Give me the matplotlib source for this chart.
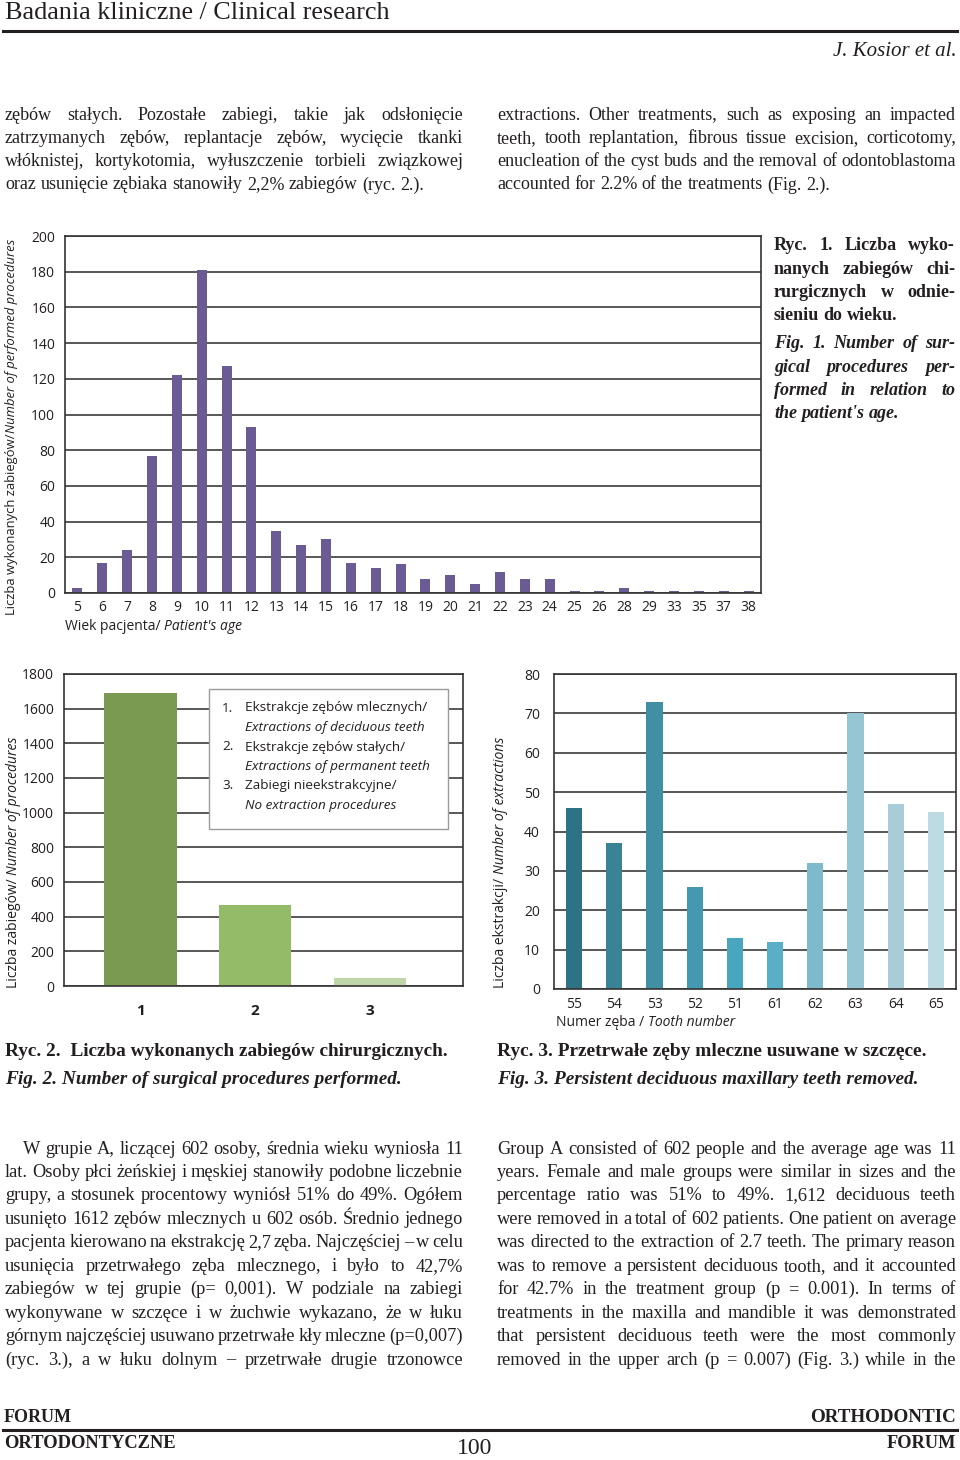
import matplotlib
matplotlib.use('Agg')
import matplotlib.pyplot as plt
from matplotlib.patches import Rectangle
from matplotlib.lines import Line2D

# ---- data ----
ages = ['5', '6', '7', '8', '9', '10', '11', '12', '13', '14', '15', '16', '17', '18', '19',
        '20', '21', '22', '23', '24', '25', '26', '28', '29', '33', '35', '37', '38']
age_counts = [3, 17, 24, 77, 122, 181, 127, 93, 35, 27, 30, 17, 14, 16, 8,
              10, 5, 12, 8, 8, 1, 1, 3, 1, 1, 1, 1, 1]

proc_labels = ['1', '2', '3']
proc_counts = [1690, 468, 44]
proc_colors = ['#7a9a52', '#93bb68', '#bfd6a8']

teeth = ['55', '54', '53', '52', '51', '61', '62', '63', '64', '65']
teeth_counts = [46, 37, 73, 26, 13, 12, 32, 70, 47, 45]
teeth_colors = ['#2e7385', '#3a8394', '#418fa2', '#4499b0', '#48a6bf',
                '#58afc6', '#7dbacb', '#96c6d4', '#a8cdd9', '#bddbe3']

top_left = ["zębów stałych. Pozostałe zabiegi, takie jak odsłonięcie",
            "zatrzymanych zębów, replantacje zębów, wycięcie tkanki",
            "włóknistej, kortykotomia, wyłuszczenie torbieli związkowej",
            "oraz usunięcie zębiaka stanowiły 2,2% zabiegów (ryc. 2.)."]
top_right = ["extractions. Other treatments, such as exposing an impacted",
             "teeth, tooth replantation, fibrous tissue excision, corticotomy,",
             "enucleation of the cyst buds and the removal of odontoblastoma",
             "accounted for 2.2% of the treatments (Fig. 2.)."]
bot_left = ["W grupie A, liczącej 602 osoby, średnia wieku wyniosła 11",
            "lat. Osoby płci żeńskiej i męskiej stanowiły podobne liczebnie",
            "grupy, a stosunek procentowy wyniósł 51% do 49%. Ogółem",
            "usunięto 1612 zębów mlecznych u 602 osób. Średnio jednego",
            "pacjenta kierowano na ekstrakcję 2,7 zęba. Najczęściej – w celu",
            "usunięcia przetrwałego zęba mlecznego, i było to 42,7%",
            "zabiegów w tej grupie (p= 0,001). W podziale na zabiegi",
            "wykonywane w szczęce i w żuchwie wykazano, że w łuku",
            "górnym najczęściej usuwano przetrwałe kły mleczne (p=0,007)",
            "(ryc. 3.), a w łuku dolnym – przetrwałe drugie trzonowce"]
bot_right = ["Group A consisted of 602 people and the average age was 11",
             "years. Female and male groups were similar in sizes and the",
             "percentage ratio was 51% to 49%. 1,612 deciduous teeth",
             "were removed in a total of 602 patients. One patient on average",
             "was directed to the extraction of 2.7 teeth. The primary reason",
             "was to remove a persistent deciduous tooth, and it accounted",
             "for 42.7% in the treatment group (p = 0.001). In terms of",
             "treatments in the maxilla and mandible it was demonstrated",
             "that persistent deciduous teeth were the most commonly",
             "removed in the upper arch (p = 0.007) (Fig. 3.) while in the"]
cap1_pl = ["Ryc. 1. Liczba wyko-", "nanych zabiegów chi-", "rurgicznych  w odnie-", "sieniu do wieku."]
cap1_en = ["Fig. 1. Number of sur-", "gical procedures per-", "formed in relation to", "the patient's age."]

# ---- page setup ----
W, H = 960, 1460
TXT = '#231f20'
GRID = '#4a4a4a'
SANS = 'Open Sans'
SERIF = 'Liberation Serif'

fig = plt.figure(figsize=(W / 100, H / 100), dpi=100)
fig.patch.set_facecolor('white')
r = fig.canvas.get_renderer()


def fx(x):
    return x / W


def fy(y):
    return 1 - y / H


def width_of(t):
    return t.get_window_extent(renderer=r).width


def fit(x0, x1, y, s, ha='left', **kw):
    t = fig.text(fx(x0), fy(y), s, va='center', color=TXT, fontsize=12, **kw)
    t.set_fontsize(12 * (x1 - x0) / width_of(t))
    if ha == 'right':
        t.set_ha('right')
        t.set_x(fx(x1))
    return t


def justify(x0, x1, y, line, last=False, size=12, **kw):
    words = line.split()
    ts = [fig.text(0, fy(y), w, va='center', fontsize=size, color=TXT, **kw) for w in words]
    ws = [width_of(t) for t in ts]
    a = fig.text(0, 0, 'x x', fontsize=size, **kw)
    b = fig.text(0, 0, 'xx', fontsize=size, **kw)
    space = width_of(a) - width_of(b)
    a.remove()
    b.remove()
    if last or len(words) == 1:
        gap = space
    else:
        gap = (x1 - x0 - sum(ws)) / (len(words) - 1)
    x = x0
    for t, w in zip(ts, ws):
        t.set_x(fx(x))
        x += w + gap


def seq(x0, y, parts, size=10):
    x = x0
    for s, style in parts:
        t = fig.text(fx(x), fy(y), s, va='center', fontsize=size, color=TXT,
                     family=SANS, style=style)
        x += width_of(t)


def vseq(x, yc, parts, size=10):
    ts = [fig.text(fx(x), 0, s, rotation=90, ha='center', va='bottom', fontsize=size,
                   color=TXT, family=SANS, style=style) for s, style in parts]
    hs = [t.get_window_extent(renderer=r).height for t in ts]
    y = yc + sum(hs) / 2
    for t, h in zip(ts, hs):
        t.set_y(fy(y))
        y -= h


def add_ax(l, t, rgt, b):
    ax = fig.add_axes([fx(l), fy(b), (rgt - l) / W, (b - t) / H])
    for sp in ax.spines.values():
        sp.set_color('#333333')
        sp.set_linewidth(1.2)
    ax.tick_params(length=0, labelsize=10, labelcolor=TXT)
    for lab in ax.get_xticklabels() + ax.get_yticklabels():
        lab.set_family(SANS)
    ax.set_axisbelow(True)
    ax.yaxis.grid(True, color=GRID, linewidth=1.3)
    return ax


# ---- header ----
fit(5, 387, 13, 'Badania kliniczne / Clinical research', family=SERIF)
fig.add_artist(Line2D([fx(3), fx(957)], [fy(31), fy(31)], color=TXT, linewidth=2.2))
fit(834, 957, 51, 'J. Kosior et al.', ha='right', family=SERIF, style='italic')

for i, line in enumerate(top_left):
    justify(5, 463, 115 + i * 23.3, line, last=(i == len(top_left) - 1), size=13, family=SERIF)
for i, line in enumerate(top_right):
    justify(497, 956, 115 + i * 23.3, line, last=(i == len(top_right) - 1), size=13, family=SERIF)

# ---- chart 1: age ----
ax1 = add_ax(65, 236, 761, 593)
x1 = list(range(len(ages)))
ax1.bar(x1, age_counts, width=0.4, color='#6b5b95')
ax1.set_xlim(-0.5, len(ages) - 0.5)
ax1.set_ylim(0, 200)
ax1.set_yticks(range(0, 201, 20))
ax1.set_xticks(x1)
ax1.set_xticklabels(ages, family=SANS)
ax1.tick_params(axis='x', pad=5)
ax1.tick_params(axis='y', pad=7)
seq(65, 627, [('Wiek pacjenta/ ', 'normal'), ("Patient's age", 'italic')])
vseq(12, 427, [('Liczba wykonanych zabiegów/', 'normal'), ('Number of performed procedures', 'italic')],
     size=9.4)

for i, line in enumerate(cap1_pl):
    justify(774, 955, 246 + i * 23.3, line, last=(i == 3), size=13, family=SERIF, weight='bold')
for i, line in enumerate(cap1_en):
    justify(774, 955, 344 + i * 23.3, line, last=(i == 3), size=13, family=SERIF,
            weight='bold', style='italic')

# ---- chart 2: procedures ----
ax2 = add_ax(64, 674, 463, 986)
x2 = list(range(len(proc_labels)))
ax2.bar(x2, proc_counts, width=0.63, color=proc_colors)
ax2.set_xlim(-0.665, 2.81)
ax2.set_ylim(0, 1800)
ax2.set_yticks(range(0, 1801, 200))
ax2.set_xticks(x2)
ax2.set_xticklabels(proc_labels, family=SANS, fontweight='bold', fontsize=11)
ax2.tick_params(axis='x', pad=13)
ax2.tick_params(axis='y', pad=7)
vseq(14, 862, [('Liczba zabiegów/ ', 'normal'), ('Number of procedures', 'italic')])

fig.add_artist(Rectangle((fx(209), fy(829)), (448 - 209) / W, (829 - 689) / H,
                         transform=fig.transFigure, facecolor='white',
                         edgecolor='#9a9a9a', linewidth=1.0, zorder=5))
legend_rows = [('1.', 'Ekstrakcje zębów mlecznych/', 'Extractions of deciduous teeth'),
               ('2.', 'Ekstrakcje zębów stałych/', 'Extractions of permanent teeth'),
               ('3.', 'Zabiegi nieekstrakcyjne/', 'No extraction procedures')]
for i, (num, pl, en) in enumerate(legend_rows):
    y = 708 + i * 39
    fig.text(fx(222), fy(y), num, va='center', fontsize=9.7, color=TXT, family=SANS, zorder=6)
    fig.text(fx(245), fy(y), pl, va='center', fontsize=9.7, color=TXT, family=SANS, zorder=6)
    fig.text(fx(245), fy(y + 19.5), en, va='center', fontsize=9.7, color=TXT, family=SANS,
             style='italic', zorder=6)

# ---- chart 3: teeth ----
ax3 = add_ax(554, 674, 956, 989)
x3 = list(range(len(teeth)))
ax3.bar(x3, teeth_counts, width=0.4, color=teeth_colors)
ax3.set_xlim(-0.5, len(teeth) - 0.5)
ax3.set_ylim(0, 80)
ax3.set_yticks(range(0, 81, 10))
ax3.set_xticks(x3)
ax3.set_xticklabels(teeth, family=SANS)
ax3.tick_params(axis='x', pad=6)
ax3.tick_params(axis='y', pad=10)
seq(556, 1023, [('Numer zęba / ', 'normal'), ('Tooth number', 'italic')])
vseq(501, 862, [('Liczba ekstrakcji/ ', 'normal'), ('Number of extractions', 'italic')])

# ---- captions ----
fit(5, 448, 1051, 'Ryc. 2.  Liczba wykonanych zabiegów chirurgicznych.', family=SERIF, weight='bold')
fit(5, 400, 1079, 'Fig. 2. Number of surgical procedures performed.', family=SERIF,
    weight='bold', style='italic')
fit(497, 925, 1051, 'Ryc. 3. Przetrwałe zęby mleczne usuwane w szczęce.', family=SERIF, weight='bold')
fit(497, 918, 1079, 'Fig. 3. Persistent deciduous maxillary teeth removed.', family=SERIF,
    weight='bold', style='italic')

# ---- body text ----
for i, line in enumerate(bot_left):
    x0 = 23 if i == 0 else 5
    justify(x0, 463, 1149 + i * 23.45, line, size=13.2, family=SERIF)
for i, line in enumerate(bot_right):
    justify(497, 956, 1149 + i * 23.45, line, size=13.2, family=SERIF)

# ---- footer ----
fig.add_artist(Line2D([fx(3), fx(957)], [fy(1430), fy(1430)], color=TXT, linewidth=2.2))
fit(4, 72, 1418, 'FORUM', family=SERIF, weight='bold')
fit(4, 176, 1444, 'ORTODONTYCZNE', family=SERIF, weight='bold')
fit(810, 956, 1418, 'ORTHODONTIC', ha='right', family=SERIF, weight='bold')
fit(887, 956, 1444, 'FORUM', ha='right', family=SERIF, weight='bold')
fig.text(fx(475), fy(1448), '100', ha='center', va='center', fontsize=17, color=TXT, family=SERIF)

fig.savefig('out.png', dpi=100, facecolor='white')
plt.close(fig)
